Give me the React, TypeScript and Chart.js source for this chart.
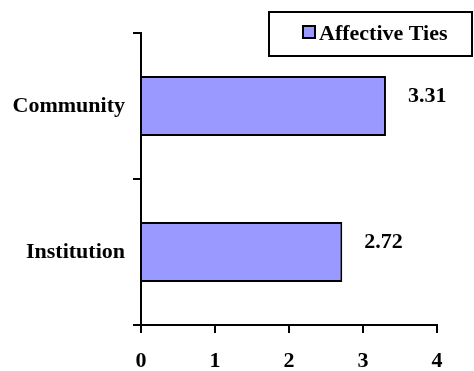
import React, { useEffect, useRef } from "react";
import { Chart, registerables } from "chart.js";

Chart.register(...registerables);

// Mean scores per setting
const categories = ["Community", "Institution"];
const seriesName = "Affective Ties";
const seriesValues = [3.31, 2.72];
const xTicks = [0, 1, 2, 3, 4];

const FONT_FAMILY = "'Liberation Serif', 'Times New Roman', serif";
const FONT_SIZE = 22;
const BAR_FILL = "#9999FF";

// Writes each bar's value just beyond its end, slightly raised
const valueLabels = {
  id: "valueLabels",
  afterDatasetsDraw(chart: any) {
    const ctx = chart.ctx;
    const meta = chart.getDatasetMeta(0);
    const values = chart.data.datasets[0].data as number[];
    ctx.save();
    ctx.font = `bold ${FONT_SIZE}px ${FONT_FAMILY}`;
    ctx.fillStyle = "#000";
    ctx.textAlign = "left";
    ctx.textBaseline = "middle";
    meta.data.forEach((bar: any, i: number) => {
      ctx.fillText(values[i].toFixed(2), bar.x + 22, bar.y - 10);
    });
    ctx.restore();
  },
};

// Boxed legend in the top-right corner
const boxedLegend = {
  id: "boxedLegend",
  afterDraw(chart: any) {
    const ctx = chart.ctx;
    const ds = chart.data.datasets[0];
    const left = 269;
    const top = 12;
    const w = 203;
    const h = 44;
    ctx.save();
    ctx.fillStyle = "#fff";
    ctx.fillRect(left, top, w, h);
    ctx.lineWidth = 2;
    ctx.strokeStyle = "#000";
    ctx.strokeRect(left, top, w, h);
    // swatch
    ctx.fillStyle = ds.backgroundColor;
    ctx.fillRect(303, 26, 12, 12);
    ctx.strokeRect(303, 26, 12, 12);
    ctx.fillStyle = "#000";
    ctx.font = `bold ${FONT_SIZE}px ${FONT_FAMILY}`;
    ctx.textAlign = "left";
    ctx.textBaseline = "middle";
    ctx.fillText(ds.label, 319, 34);
    ctx.restore();
  },
};

export default function App() {
  const canvasRef = useRef<HTMLCanvasElement | null>(null);

  useEffect(() => {
    if (!canvasRef.current) return;
    const chart = new Chart(canvasRef.current, {
      type: "bar",
      data: {
        labels: categories,
        datasets: [
          {
            label: seriesName,
            data: seriesValues,
            backgroundColor: BAR_FILL,
            borderColor: "#000",
            borderWidth: 2,
            borderSkipped: "start",
            barPercentage: 0.82,
            categoryPercentage: 0.5,
          },
        ],
      },
      options: {
        indexAxis: "y",
        animation: false,
        responsive: false,
        events: [],
        layout: { padding: { top: 33, right: 37, left: 0, bottom: 0 } },
        plugins: {
          legend: { display: false },
          tooltip: { enabled: false },
        },
        scales: {
          x: {
            type: "linear",
            min: xTicks[0],
            max: xTicks[xTicks.length - 1],
            afterBuildTicks(scale: any) {
              scale.ticks = xTicks.map((v) => ({ value: v }));
            },
            afterFit(scale: any) {
              scale.height = 46;
            },
            grid: {
              drawOnChartArea: false,
              drawTicks: true,
              tickLength: 8,
              color: "#000",
              lineWidth: 2,
            },
            border: { display: true, color: "#000", width: 2 },
            ticks: {
              color: "#000",
              padding: 15,
              font: { family: FONT_FAMILY, size: FONT_SIZE, weight: "bold" },
            },
          },
          y: {
            type: "category",
            afterFit(scale: any) {
              scale.width = 141;
            },
            grid: {
              offset: true,
              drawOnChartArea: false,
              drawTicks: true,
              tickLength: 8,
              color: "#000",
              lineWidth: 2,
            },
            border: { display: true, color: "#000", width: 2 },
            ticks: {
              color: "#000",
              padding: 8,
              font: { family: FONT_FAMILY, size: FONT_SIZE, weight: "bold" },
            },
          },
        },
      },
      plugins: [valueLabels, boxedLegend],
    });
    return () => chart.destroy();
  }, []);

  return (
    <div style={{ position: "fixed", left: 0, top: 0, width: 474, height: 371, background: "#fff" }}>
      <canvas ref={canvasRef} width={474} height={371} style={{ display: "block" }} />
    </div>
  );
}
